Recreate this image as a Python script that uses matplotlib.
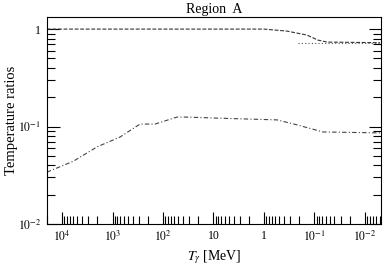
import matplotlib
matplotlib.use("Agg")
import matplotlib.pyplot as plt
from matplotlib.ticker import LogLocator, FixedLocator, FuncFormatter

plt.rcParams['font.family'] = ['Liberation Serif', 'DejaVu Serif']
plt.rcParams['mathtext.fontset'] = 'stix'

# values
T_dash = [2e4, 1.0, 0.35, 0.14, 0.085, 0.056, 0.005]
r_dash = [1.0, 1.0, 0.954, 0.868, 0.771, 0.736, 0.725]

T_dot = [0.21, 0.005]
r_dot = [0.72, 0.72]

T_dd = [2e4, 6e3, 2e3, 710, 285, 144, 53, 33, 8.5, 0.55, 0.22, 0.068, 0.005]
r_dd = [0.034, 0.044, 0.062, 0.078, 0.106, 0.106, 0.125, 0.125, 0.122, 0.117, 0.104, 0.088, 0.086]

x_majors = [1e4, 1e3, 1e2, 10, 1, 0.1, 0.01]
x_labels = ['$10^4$', '$10^3$', '$10^2$', '10', '1', '$10^{-1}$', '$10^{-2}$']
y_majors = [1, 0.1, 0.01]
y_labels = ['1', '$10^{-1}$', '$10^{-2}$']

fig = plt.figure(figsize=(3.84, 2.66), dpi=100)
ax = fig.add_axes([0.122, 0.158, 0.870, 0.778])

ax.plot(T_dash, r_dash, color='#333333', lw=0.8, dashes=(3.5, 1.5))
ax.plot(T_dot, r_dot, color='#555555', lw=0.8, dashes=(1, 2))
ax.plot(T_dd, r_dd, color='#444444', lw=0.8, dashes=(4, 2, 1, 2))

ax.set_xscale('log')
ax.set_yscale('log')
ax.set_xlim(2e4, 4.8e-3)
ax.set_ylim(0.01, 1.33)

ax.xaxis.set_major_locator(FixedLocator(x_majors))
ax.xaxis.set_major_formatter(FuncFormatter(lambda v, p: x_labels[x_majors.index(v)] if v in x_majors else ''))
ax.xaxis.set_minor_locator(LogLocator(base=10, subs=range(2, 10), numticks=20))
ax.yaxis.set_major_locator(FixedLocator(y_majors))
ax.yaxis.set_major_formatter(FuncFormatter(lambda v, p: y_labels[y_majors.index(v)] if v in y_majors else ''))
ax.yaxis.set_minor_locator(LogLocator(base=10, subs=range(2, 10), numticks=20))
ax.xaxis.set_minor_formatter(FuncFormatter(lambda v, p: ''))
ax.yaxis.set_minor_formatter(FuncFormatter(lambda v, p: ''))

ax.tick_params(which='both', direction='in', top=False, right=True, labelsize=8.5, width=0.8)
ax.tick_params(which='major', length=9, pad=4)
ax.tick_params(which='minor', length=6)
for s in ax.spines.values():
    s.set_linewidth(0.8)

ax.set_title('Region  A', fontsize=10, pad=3)
ax.set_xlabel(r'$T_\gamma$ [MeV]', fontsize=10, labelpad=3)
ax.set_ylabel('Temperature ratios', fontsize=10.5, labelpad=0)

fig.savefig('out.png', dpi=100)
